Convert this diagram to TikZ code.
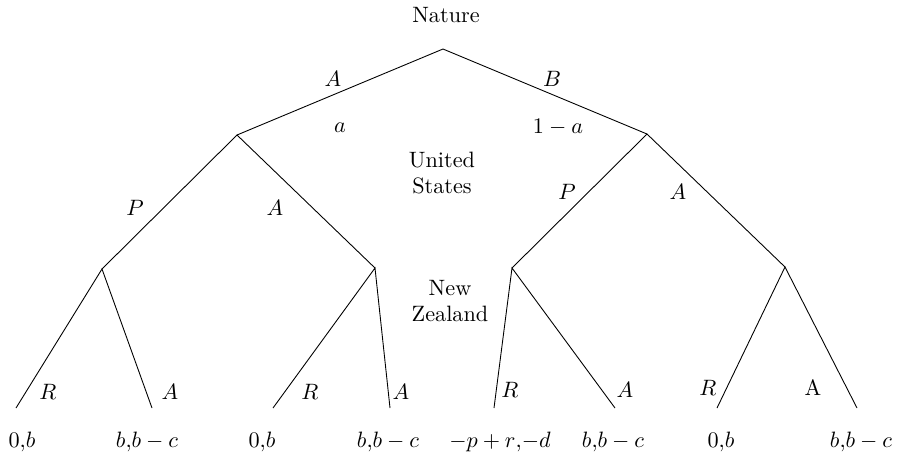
\documentclass[tikz,border=0pt]{standalone}
\usepackage{amsmath}
\usepackage{tikz}
\usetikzlibrary{positioning}

\begin{document}
\begin{tikzpicture}[x=0.45pt,y=-0.45pt,
    branch/.style={line width=0.4pt},
    who/.style={align=center,inner sep=1pt},
    pay/.style={inner sep=1pt}]
  \useasboundingbox (0,0) rectangle (902,459);
  % decision points
  \coordinate (root) at (443,49);
  \coordinate (us1) at (237,135);
  \coordinate (us2) at (647,134);
  \coordinate (nz1) at (102,269);
  \coordinate (nz2) at (375,268);
  \coordinate (nz3) at (512,268);
  \coordinate (nz4) at (785,267);
  % leaves
  \coordinate (l1) at (16,408);
  \coordinate (l2) at (152,408);
  \coordinate (l3) at (273,408);
  \coordinate (l4) at (390,408);
  \coordinate (l5) at (494,408);
  \coordinate (l6) at (615,408);
  \coordinate (l7) at (717,408);
  \coordinate (l8) at (857,408);
  \draw[branch] (us1) -- (root) -- (us2);
  \draw[branch] (nz1) -- (us1) -- (nz2);
  \draw[branch] (nz3) -- (us2) -- (nz4);
  \draw[branch] (l1) -- (nz1) -- (l2);
  \draw[branch] (l3) -- (nz2) -- (l4);
  \draw[branch] (l5) -- (nz3) -- (l6);
  \draw[branch] (l7) -- (nz4) -- (l8);
  % players
  \node[who] (nature) at (446,15) {Nature};
  \node[who] (us) at (442,173) {United\\States};
  \node[who] (nz) at (450,301) {New\\Zealand};
  % moves
  \node (mA) at (333,79) {$A$};
  \node (mB) at (552,79) {$B$};
  \node (pa) at (340,128) {$a$};
  \node (pb) at (558,127) {$1-a$};
  \node (p1) at (135,208) {$P$};
  \node (a1) at (275,208) {$A$};
  \node (p2) at (567,192) {$P$};
  \node (a2) at (678,192) {$A$};
  \node (r1) at (48,392) {$R$};
  \node (a3) at (170,392) {$A$};
  \node (r2) at (310,392) {$R$};
  \node (a4) at (401,392) {$A$};
  \node (r3) at (510,390) {$R$};
  \node (a5) at (625,390) {$A$};
  \node (r4) at (708,388) {$R$};
  \node (a6) at (813,388) {A};
  % payoffs
  \node[pay] (o1) at (22,442) {$0{,}b$};
  \node[pay] (o2) at (147,442) {$b{,}b-c$};
  \node[pay] (o3) at (262,442) {$0{,}b$};
  \node[pay] (o4) at (388,442) {$b{,}b-c$};
  \node[pay] (o5) at (500,442) {$-p+r{,}{-d}$};
  \node[pay] (o6) at (613,442) {$b{,}b-c$};
  \node[pay] (o7) at (721,442) {$0{,}b$};
  \node[pay] (o8) at (861,442) {$b{,}b-c$};
\end{tikzpicture}
\end{document}
